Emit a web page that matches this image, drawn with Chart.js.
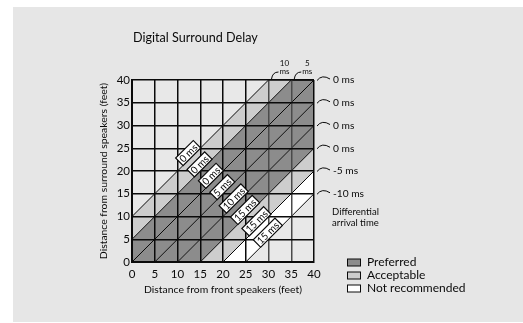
<!DOCTYPE html>
<html>
<head>
<meta charset="utf-8">
<script src="https://cdn.jsdelivr.net/npm/chart.js@4.4.1/dist/chart.umd.min.js"></script>
<style>
  html, body { margin: 0; padding: 0; background: #fff; }
  #wrap { width: 523px; height: 323px; }
</style>
</head>
<body>
<div id="wrap"><canvas id="delayChart" width="523" height="323"></canvas></div>
<script>
// both axes in feet
const axisTicks = [0, 5, 10, 15, 20, 25, 30, 35, 40];
// diagonals: surround distance = front distance + offset
const lineOffsets = [10, 5, 0, -5, -10, -15, -20, -25];
// differential arrival time where each diagonal leaves the grid
const arrivalLabels = ['10 ms', '5 ms', '0 ms', '0 ms', '0 ms', '0 ms', '-5 ms', '-10 ms'];
// delay setting written on each diagonal
const delayLabels = ['0 ms', '0 ms', '0 ms', '5 ms', '10 ms', '15 ms', '15 ms', '15 ms'];
// zone between one diagonal and the next
const bandZones = ['Acceptable', 'Preferred', 'Preferred', 'Preferred', 'Preferred', 'Acceptable', 'Not recommended'];
const zoneNames = ['Preferred', 'Acceptable', 'Not recommended'];

const zoneColor = {
  'Preferred': '#8c8c8c',
  'Acceptable': '#cdcdcd',
  'Not recommended': '#ffffff'
};
const INK = '#0a0a0a';
const FONT = 'Lato, "Open Sans", sans-serif';

const lo = axisTicks[0];
const hi = axisTicks[axisTicks.length - 1];

// diagonal y = x + c, held inside the square
function diagonal(c) {
  if (c >= 0) return [{x: lo, y: lo + c}, {x: hi - c, y: hi}, {x: hi, y: hi}];
  return [{x: lo, y: lo}, {x: lo - c, y: lo}, {x: hi, y: hi + c}];
}

const datasets = lineOffsets.map((c, i) => ({
  label: 'offset ' + c,
  data: diagonal(c),
  borderColor: INK,
  borderWidth: 1,
  pointRadius: 0,
  tension: 0,
  fill: i === 0 ? false : '-1',
  backgroundColor: i === 0 ? 'transparent' : zoneColor[bandZones[i - 1]]
}));

const decorations = {
  id: 'decorations',
  beforeDraw(chart) {
    const ctx = chart.ctx;
    ctx.save();
    ctx.fillStyle = '#fff';
    ctx.fillRect(0, 0, chart.width, chart.height);
    ctx.fillStyle = '#e6e6e6';
    ctx.fillRect(13, 7, chart.width - 13, 315);
    const a = chart.chartArea;
    ctx.fillStyle = '#e8e8e8';
    ctx.fillRect(a.left, a.top, a.right - a.left, a.bottom - a.top);
    ctx.restore();
  },
  afterDraw(chart) {
    const ctx = chart.ctx;
    const xs = chart.scales.x, ys = chart.scales.y;
    ctx.save();
    ctx.fillStyle = INK;
    ctx.strokeStyle = INK;

    // title
    ctx.font = '12.6px ' + FONT;
    ctx.textAlign = 'left';
    ctx.textBaseline = 'middle';
    ctx.fillText('Digital Surround Delay', 133, 38);

    // delay boxes along each diagonal
    const S = 36.3, lift = 1.6;
    delayLabels.forEach((txt, i) => {
      const c = lineOffsets[i] + lift;
      const px = xs.getPixelForValue((S - c) / 2);
      const py = ys.getPixelForValue((S + c) / 2);
      ctx.save();
      ctx.translate(px, py);
      ctx.rotate(-Math.PI / 4);
      ctx.font = '10px ' + FONT;
      const w = ctx.measureText(txt).width + 4, h = 10.5;
      ctx.fillStyle = '#fff';
      ctx.fillRect(-w / 2, -h / 2, w, h);
      ctx.lineWidth = 1.2;
      ctx.strokeRect(-w / 2, -h / 2, w, h);
      ctx.fillStyle = INK;
      ctx.textAlign = 'center';
      ctx.textBaseline = 'middle';
      ctx.fillText(txt, 0, 0.5);
      ctx.restore();
    });

    // arrival time at the end of each diagonal
    ctx.lineWidth = 1;
    lineOffsets.forEach((c, i) => {
      const parts = arrivalLabels[i].split(' ');
      if (c > 0) {
        const ex = xs.getPixelForValue(hi - c), ey = ys.getPixelForValue(hi);
        ctx.beginPath();
        ctx.moveTo(ex + 3, ey - 1);
        ctx.quadraticCurveTo(ex + 4, ey - 8, ex + 10, ey - 8);
        ctx.stroke();
        ctx.font = '8px ' + FONT;
        ctx.textAlign = 'center';
        ctx.textBaseline = 'middle';
        ctx.fillText(parts[0], ex + 16, ey - 17);
        ctx.fillText(parts[1], ex + 16, ey - 9);
      } else {
        const ex = xs.getPixelForValue(hi), ey = ys.getPixelForValue(hi + c);
        ctx.beginPath();
        ctx.moveTo(ex + 3, ey + 0.5);
        ctx.quadraticCurveTo(ex + 8, ey - 6, ex + 16, ey - 1);
        ctx.stroke();
        ctx.font = '10.2px ' + FONT;
        ctx.textAlign = 'left';
        ctx.textBaseline = 'middle';
        ctx.fillText(arrivalLabels[i], ex + 19, ey);
      }
    });

    ctx.font = '9.5px ' + FONT;
    ctx.textAlign = 'left';
    ctx.textBaseline = 'middle';
    ctx.fillText('Differential', 332, 212);
    ctx.fillText('arrival time', 332, 222.5);

    // legend
    ctx.font = '12px ' + FONT;
    zoneNames.forEach((name, i) => {
      const ly = 262.5 + i * 13;
      ctx.fillStyle = zoneColor[name];
      ctx.fillRect(347, ly - 3.5, 14, 7);
      ctx.strokeRect(347.5, ly - 3.5, 13, 7);
      ctx.fillStyle = INK;
      ctx.fillText(name, 367, ly);
    });
    ctx.restore();
  }
};

const gridColor = (ctx) => (ctx.tick && (ctx.tick.value === 30 || ctx.tick.value === 35)) ? '#4a4a4a' : INK;

new Chart(document.getElementById('delayChart'), {
  type: 'line',
  data: { datasets: datasets },
  options: {
    responsive: false,
    animation: false,
    events: [],
    layout: { padding: { left: 97, right: 209, top: 80, bottom: 27 } },
    plugins: { legend: { display: false }, tooltip: { enabled: false } },
    scales: {
      x: {
        type: 'linear',
        min: lo,
        max: hi,
        afterFit(scale) { scale.height = 34; },
        afterBuildTicks(scale) { scale.ticks = axisTicks.map(v => ({value: v})); },
        grid: { color: gridColor, lineWidth: 1.5, drawTicks: false, z: 1 },
        border: { color: INK, width: 2, z: 2 },
        ticks: { color: INK, padding: 5, font: { size: 11.5, family: FONT } },
        title: {
          display: true,
          text: 'Distance from front speakers (feet)',
          color: INK,
          padding: 0,
          font: { size: 10.4, family: FONT }
        }
      },
      y: {
        type: 'linear',
        min: lo,
        max: hi,
        afterFit(scale) { scale.width = 35; },
        afterBuildTicks(scale) { scale.ticks = axisTicks.map(v => ({value: v})); },
        grid: { color: INK, lineWidth: 1.5, drawTicks: false, z: 1 },
        border: { color: INK, width: 2, z: 2 },
        ticks: { color: INK, padding: 2, font: { size: 11.5, family: FONT } },
        title: {
          display: true,
          text: 'Distance from surround speakers (feet)',
          color: INK,
          padding: 0,
          font: { size: 10.4, family: FONT }
        }
      }
    }
  },
  plugins: [decorations]
});
</script>
</body>
</html>
